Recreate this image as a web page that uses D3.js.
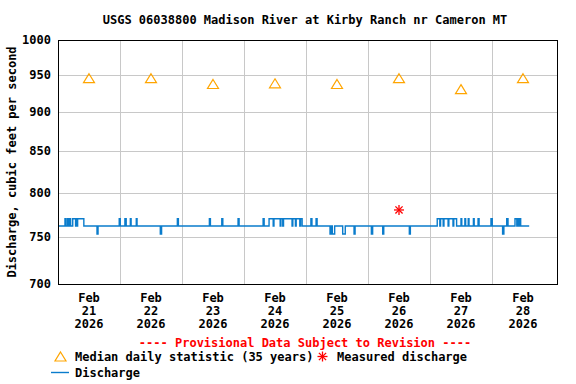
<!DOCTYPE html>
<html>
<head>
<meta charset="utf-8">
<title>USGS 06038800</title>
<script src="https://cdnjs.cloudflare.com/ajax/libs/d3/7.8.5/d3.min.js"></script>
<style>
  body { margin: 0; background: #fff; }
  text { font-family: "DejaVu Sans Mono", monospace; font-weight: bold; font-size: 12px; }
</style>
</head>
<body>
<script>
// ---- data ----
var chartTitle = "USGS 06038800 Madison River at Kirby Ranch nr Cameron MT";
var dayLabels = ["21", "22", "23", "24", "25", "26", "27", "28"];
var yTicks = [700, 750, 800, 850, 900, 950, 1000];
// median daily statistic at noon of each day
var medianValues = [945, 945, 937, 938, 937, 945, 930, 945];
// measured discharge: [hours after Feb 21 00:00, cfs]
var measured = [[132, 780]];
// discharge change points: [hours after Feb 21 00:00, cfs]
var discharge = [
  [0,762],[2.7,770],[3.1,762],[3.7,770],[4.0,762],[4.5,770],[4.9,762],[5.7,770],[6.8,762],
  [7.1,770],[7.4,762],[7.6,770],[10.0,762],[15.1,753],[15.5,762],[23.7,770],[24.1,762],
  [25.9,770],[26.4,762],[28.0,770],[28.3,762],[30.3,770],[30.6,762],[39.6,753],[40.1,762],
  [46.2,770],[46.6,762],
  [58.6,770],[59.0,762],[63.4,770],[63.8,762],[69.7,770],[70.1,762],
  [79.4,770],[79.8,762],[81.7,770],[83.3,762],[83.6,770],[86.0,762],[86.3,770],[87.0,762],
  [87.3,770],[90.6,762],[90.9,770],[91.9,762],[92.2,770],[93.6,762],[93.9,770],[94.5,762],
  [97.9,770],[98.3,762],[99.9,770],[100.3,762],[105.3,753],[105.7,762],[106.2,753],[107.1,762],
  [110.2,753],[111.2,762],[114.6,753],[115.0,762],
  [121.3,753],[121.8,762],[125.7,753],[126.1,762],[136.0,753],[136.4,762],
  [146.8,770],[147.8,762],[148.1,770],[149.1,762],[149.4,770],[151.0,762],[151.3,770],[152.9,762],
  [153.2,770],[154.3,762],[156.0,770],[156.3,762],[157.5,770],[157.8,762],[158.8,770],[159.1,762],
  [160.8,770],[161.1,762],[162.6,770],[163.0,762],[167.6,770],[168.1,762],
  [172.1,753],[172.6,762],[173.7,770],[174.2,762],[176.9,770],[177.6,762],[177.9,770],[178.4,762],
  [178.6,770],[179.1,762],[182.4,762]
];

var width = 576, height = 384,
    plotLeft = 58, plotRight = 554, plotTop = 40, plotBottom = 284;

var start = new Date(2026, 1, 21);
function hrs(h) { return new Date(start.getTime() + h * 3600000); }

var x = d3.scaleTime()
    .domain([start, hrs(24 * 8)])
    .range([plotLeft, plotRight]);
var y = d3.scaleLog()
    .domain([700, 1000])
    .range([plotBottom, plotTop]);

var svg = d3.select("body").append("svg")
    .attr("width", width)
    .attr("height", height);

svg.append("text")
    .attr("x", 305).attr("y", 24)
    .attr("text-anchor", "middle")
    .text(chartTitle);

// grid
svg.append("g").selectAll("line")
    .data(yTicks)
  .enter().append("line")
    .attr("x1", plotLeft).attr("x2", plotRight + 3)
    .attr("y1", function(d) { return Math.round(y(d)) + 0.5; })
    .attr("y2", function(d) { return Math.round(y(d)) + 0.5; })
    .attr("stroke", "#c8c8c8");

svg.append("g").selectAll("line")
    .data(d3.range(1, 8))
  .enter().append("line")
    .attr("x1", function(d) { return Math.round(x(hrs(d * 24))) + 0.5; })
    .attr("x2", function(d) { return Math.round(x(hrs(d * 24))) + 0.5; })
    .attr("y1", plotTop).attr("y2", plotBottom)
    .attr("stroke", "#c8c8c8");

// y tick labels
svg.append("g").selectAll("text")
    .data(yTicks)
  .enter().append("text")
    .attr("x", 51)
    .attr("y", function(d) { return y(d) + 4; })
    .attr("text-anchor", "end")
    .text(function(d) { return d; });

svg.append("text")
    .attr("transform", "translate(16," + (plotTop + plotBottom) / 2 + ") rotate(-90)")
    .attr("text-anchor", "middle")
    .text("Discharge, cubic feet per second");

// x labels
var xl = svg.append("g").selectAll("text")
    .data(dayLabels)
  .enter().append("text")
    .attr("text-anchor", "middle")
    .attr("transform", function(d, i) { return "translate(" + x(hrs(i * 24 + 12)) + ",0)"; });
xl.append("tspan").attr("x", 0).attr("y", 302).text("Feb");
xl.append("tspan").attr("x", 0).attr("y", 315).text(function(d) { return d; });
xl.append("tspan").attr("x", 0).attr("y", 328).text("2026");

// discharge line
var line = d3.line()
    .x(function(d) { return x(hrs(d[0])); })
    .y(function(d) { return y(d[1]); })
    .curve(d3.curveStepAfter);

svg.append("path")
    .datum(discharge)
    .attr("d", line)
    .attr("fill", "none")
    .attr("stroke", "#0a7ccc")
    .attr("stroke-width", 1.4);

// median triangles
function tri(cx, cy) {
  return "M" + cx + "," + (cy - 5) + "L" + (cx + 5.5) + "," + (cy + 4) + "L" + (cx - 5.5) + "," + (cy + 4) + "Z";
}
svg.append("g").selectAll("path")
    .data(medianValues)
  .enter().append("path")
    .attr("d", function(d, i) { return tri(x(hrs(i * 24 + 12)), y(d)); })
    .attr("fill", "none")
    .attr("stroke", "#ffa500")
    .attr("stroke-width", 1.2);

// measured asterisk
function star(g, cx, cy) {
  [[0, -5, 0, 5], [-5, 0, 5, 0], [-3.6, -3.6, 3.6, 3.6], [-3.6, 3.6, 3.6, -3.6]].forEach(function(s) {
    g.append("line")
      .attr("x1", cx + s[0]).attr("y1", cy + s[1])
      .attr("x2", cx + s[2]).attr("y2", cy + s[3])
      .attr("stroke", "#ff0000").attr("stroke-width", 1.3);
  });
}
measured.forEach(function(m) {
  star(svg.append("g"), x(hrs(m[0])), y(m[1]));
});

// frame
svg.append("rect")
    .attr("x", plotLeft + 0.5).attr("y", plotTop + 0.5)
    .attr("width", plotRight + 3 - plotLeft).attr("height", plotBottom - plotTop)
    .attr("fill", "none")
    .attr("stroke", "#000");

// legend
svg.append("text")
    .attr("x", 305).attr("y", 347)
    .attr("text-anchor", "middle")
    .attr("fill", "#ff0000")
    .text("---- Provisional Data Subject to Revision ----");

svg.append("path").attr("d", tri(60.5, 357)).attr("fill", "none")
    .attr("stroke", "#ffa500").attr("stroke-width", 1.2);
svg.append("text").attr("x", 75).attr("y", 361).text("Median daily statistic (35 years)");
star(svg.append("g"), 322.5, 356.5);
svg.append("text").attr("x", 337).attr("y", 361).text("Measured discharge");

svg.append("line").attr("x1", 51).attr("x2", 69).attr("y1", 372.5).attr("y2", 372.5)
    .attr("stroke", "#0a7ccc").attr("stroke-width", 1.4);
svg.append("text").attr("x", 75).attr("y", 377).text("Discharge");
</script>
</body>
</html>
